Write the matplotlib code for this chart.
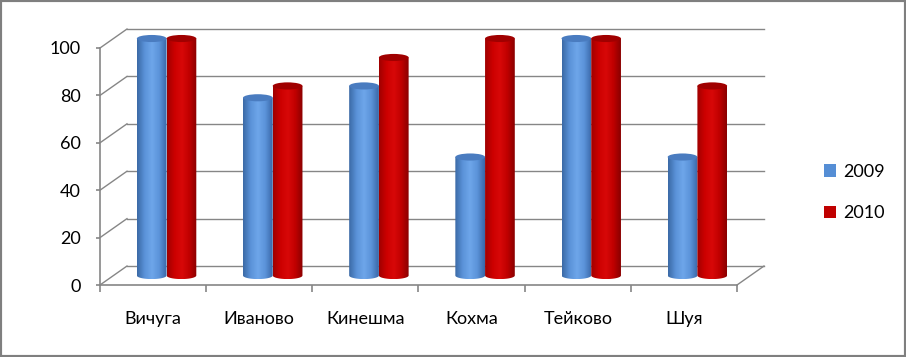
import matplotlib.pyplot as plt
import numpy as np
from matplotlib.patches import Ellipse, Patch, PathPatch, Rectangle
from matplotlib.path import Path
from matplotlib.colors import LinearSegmentedColormap

# Data
cities = ['Вичуга', 'Иваново', 'Кинешма', 'Кохма', 'Тейково', 'Шуя']
years = ['2009', '2010']
v2009 = [100, 75, 80, 50, 100, 50]
v2010 = [100, 80, 92, 100, 100, 80]
yticks = [0, 20, 40, 60, 80, 100]

plt.rcParams['font.family'] = ['Lato', 'DejaVu Sans']

W, H, DPI = 906, 357, 100
fig = plt.figure(figsize=(W / DPI, H / DPI), dpi=DPI)
ax = fig.add_axes([100 / W, 72 / H, 637 / W, 237 / H])

grid_c = '#868686'
# depth of the 3d box, in data units (about 27px right, 19px up)
DX, DY = 0.254, 8.0

# back wall gridlines + left wall slants
for t in yticks:
    ax.plot([-0.5 + DX, 5.5 + DX], [t + DY, t + DY], color=grid_c, lw=1, clip_on=False, zorder=1)
    ax.plot([-0.5, -0.5 + DX], [t, t + DY], color=grid_c, lw=1, clip_on=False, zorder=1)
# right edge of the floor
ax.plot([5.5, 5.5 + DX], [0, DY], color=grid_c, lw=1, clip_on=False, zorder=1)

# cylinder colours (left -> right shading)
cmaps = [
    LinearSegmentedColormap.from_list('b', ['#3b6aa6', '#5a92d8', '#6ea6ea', '#5b93d9', '#3a68a8']),
    LinearSegmentedColormap.from_list('r', ['#a00000', '#cc0000', '#d80808', '#c00000', '#8a0000']),
]
top_colors = ['#4a7cc0', '#a00000']

bw = 0.28   # bar width (category units)
ry = 1.5    # half height of ellipses (data units)
grad = np.linspace(0, 1, 64).reshape(1, -1)

for j, vals in enumerate([v2009, v2010]):
    for i, v in enumerate(vals):
        x0 = i - bw + j * bw + DX / 2
        x1 = x0 + bw
        cx = (x0 + x1) / 2
        y0 = DY / 2
        y1 = v + DY / 2
        # body outline: left edge, bottom half-ellipse, right edge
        th = np.linspace(np.pi, 2 * np.pi, 40)
        verts = [(x0, y1)] + [(cx + bw / 2 * np.cos(a), y0 + ry * np.sin(a)) for a in th] + [(x1, y1), (x0, y1)]
        body = Path(verts, closed=True)
        clip = PathPatch(body, transform=ax.transData, facecolor='none', edgecolor='none', clip_on=False)
        ax.add_patch(clip)
        im = ax.imshow(grad, cmap=cmaps[j], extent=[x0, x1, y0 - ry, y1], aspect='auto',
                       interpolation='bilinear', zorder=3 + j)
        im.set_clip_path(clip)
        im.set_clip_box(fig.bbox)
        ax.add_patch(Ellipse((cx, y1), bw, 2 * ry, facecolor=top_colors[j], edgecolor='none',
                             zorder=3 + j, clip_on=False))

ax.set_xlim(-0.5, 5.5)
ax.set_ylim(0, 100)

# front axes
for s in ['top', 'right']:
    ax.spines[s].set_visible(False)
for s in ['left', 'bottom']:
    ax.spines[s].set_color(grid_c)
    ax.spines[s].set_linewidth(1.2)
ax.set_yticks(yticks)
ax.tick_params(axis='y', length=3, width=1.2, color=grid_c, labelsize=13, pad=11)
ax.set_xticks(np.arange(-0.5, 6, 1))
ax.set_xticklabels([])
ax.set_xticks(np.arange(len(cities)), minor=True)
ax.set_xticklabels(cities, minor=True)
ax.tick_params(axis='x', which='major', length=5, width=1.2, color=grid_c)
ax.tick_params(axis='x', which='minor', length=0, labelsize=13, pad=19)

handles = [Patch(facecolor=c, edgecolor='none') for c in ['#558ed5', '#c00000']]
fig.legend(handles, years, loc='center left', bbox_to_anchor=(824 / W, 1 - 192.5 / H),
           frameon=False, fontsize=13, handlelength=0.68, handleheight=0.68,
           handletextpad=0.4, labelspacing=1.4, borderpad=0, borderaxespad=0)

# chart border
fig.patches.append(Rectangle((0, 0), 1, 1, transform=fig.transFigure, fill=False,
                             edgecolor='#7f7f7f', lw=3))

fig.savefig('out.png', dpi=DPI)
